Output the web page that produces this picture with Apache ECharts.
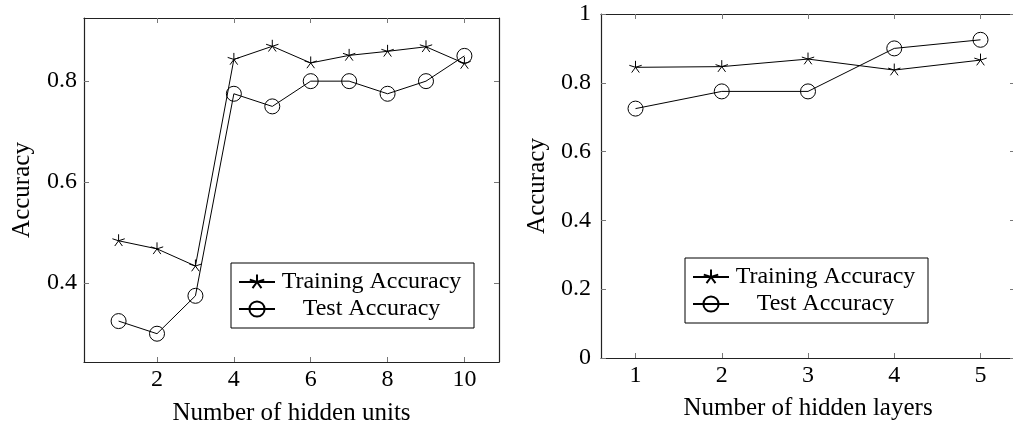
<!DOCTYPE html>
<html>
<head>
<meta charset="utf-8">
<script src="https://cdn.jsdelivr.net/npm/echarts@6/dist/echarts.min.js"></script>
<style>
  html, body { margin: 0; padding: 0; background: #fff; }
  #chart { width: 1013px; height: 424px; }
</style>
</head>
<body>
<div id="chart"></div>
<script>
// Accuracy vs. number of hidden units (left) and hidden layers (right)
const hiddenUnits = [1, 2, 3, 4, 5, 6, 7, 8, 9, 10];
const unitsTrain = [0.484, 0.468, 0.434, 0.843, 0.869, 0.836, 0.851, 0.859, 0.868, 0.835];
const unitsTest = [0.325, 0.300, 0.375, 0.775, 0.750, 0.800, 0.800, 0.775, 0.800, 0.850];

const hiddenLayers = [1, 2, 3, 4, 5];
const layersTrain = [0.845, 0.847, 0.869, 0.837, 0.866];
const layersTest = [0.725, 0.775, 0.775, 0.900, 0.925];

const unitsXTicks = [2, 4, 6, 8, 10];
const unitsYTicks = [0.4, 0.6, 0.8];
const layersXTicks = [1, 2, 3, 4, 5];
const layersYTicks = [0, 0.2, 0.4, 0.6, 0.8, 1];

const seriesNames = ['Training Accuracy', 'Test Accuracy'];

const FONT = '"Liberation Serif", "DejaVu Serif", serif';
const INK = '#000';

// five-armed star made of strokes, padded to a square box so it stays centred
const STAR = 'path://M-10 -10 M10 10 M0 0 L0 -10 M0 0 L9.51 -3.09 M0 0 L5.88 8.09 M0 0 L-5.88 8.09 M0 0 L-9.51 -3.09';

const pairs = (xs, ys) => xs.map((x, i) => [x, ys[i]]);

function valueAxis(opts) {
  const ticks = opts.ticks;
  return {
    type: 'value',
    gridIndex: opts.grid,
    position: opts.position,
    min: opts.min,
    max: opts.max,
    name: opts.name || '',
    nameLocation: 'middle',
    nameGap: opts.nameGap || 0,
    nameRotate: opts.nameRotate,
    nameTextStyle: { fontFamily: FONT, fontSize: 25, color: INK },
    axisLine: { show: true, onZero: false, lineStyle: { color: '#222', width: 1.2 } },
    axisTick: { show: true, inside: true, length: 5, customValues: ticks, lineStyle: { color: '#777', width: 1 } },
    axisLabel: {
      show: !!opts.labels,
      customValues: ticks,
      margin: opts.margin || 8,
      fontFamily: FONT, fontSize: 24, color: INK,
      formatter: v => String(Math.round(v * 10) / 10)
    },
    splitLine: { show: false }
  };
}

function lineSeries(name, data, xi, yi, symbol, size) {
  return {
    type: 'line',
    name: name,
    xAxisIndex: xi,
    yAxisIndex: yi,
    data: data,
    symbol: symbol,
    symbolSize: size,
    showAllSymbol: true,
    lineStyle: { color: INK, width: 1 },
    itemStyle: { color: 'transparent', borderColor: INK, borderWidth: 1 },
    emphasis: { disabled: true },
    z: 3
  };
}

function legendBox(left, top) {
  return {
    orient: 'vertical',
    left: left,
    top: top,
    data: seriesNames,
    selectedMode: false,
    padding: [7, 11, 7, 7],
    itemGap: 3,
    itemWidth: 36,
    itemHeight: 19,
    borderColor: INK,
    borderWidth: 1,
    backgroundColor: '#fff',
    formatter: name => '{t|' + name + '}',
    textStyle: {
      fontFamily: FONT, fontSize: 24, color: INK,
      rich: { t: { width: 183, align: 'center', fontFamily: FONT, fontSize: 24, lineHeight: 24, color: INK } }
    }
  };
}

const chart = echarts.init(document.getElementById('chart'), null, { renderer: 'canvas' });

chart.setOption({
  animation: false,
  backgroundColor: '#fff',
  grid: [
    { left: 84, top: 18, width: 415, height: 344, outerBoundsMode: 'none', containLabel: false },
    { left: 601, top: 14, width: 414, height: 344, outerBoundsMode: 'none', containLabel: false }
  ],
  xAxis: [
    valueAxis({ grid: 0, position: 'bottom', min: 0.1, max: 10.9, ticks: unitsXTicks, labels: true,
                name: 'Number of hidden units', nameGap: 39, margin: 6 }),
    valueAxis({ grid: 0, position: 'top', min: 0.1, max: 10.9, ticks: unitsXTicks }),
    valueAxis({ grid: 1, position: 'bottom', min: 0.6, max: 5.4, ticks: layersXTicks, labels: true,
                name: 'Number of hidden layers', nameGap: 38, margin: 6 }),
    valueAxis({ grid: 1, position: 'top', min: 0.6, max: 5.4, ticks: layersXTicks })
  ],
  yAxis: [
    valueAxis({ grid: 0, position: 'left', min: 0.244, max: 0.925, ticks: unitsYTicks, labels: true,
                name: 'Accuracy', nameGap: 49, nameRotate: 90, margin: 7 }),
    valueAxis({ grid: 0, position: 'right', min: 0.244, max: 0.925, ticks: unitsYTicks }),
    valueAxis({ grid: 1, position: 'left', min: 0, max: 1, ticks: layersYTicks, labels: true,
                name: 'Accuracy', nameGap: 51, nameRotate: 90, margin: 10 }),
    valueAxis({ grid: 1, position: 'right', min: 0, max: 1, ticks: layersYTicks })
  ],
  legend: [legendBox(231, 263), legendBox(685, 258)],
  series: [
    lineSeries(seriesNames[0], pairs(hiddenUnits, unitsTrain), 0, 0, STAR, 13),
    lineSeries(seriesNames[1], pairs(hiddenUnits, unitsTest), 0, 0, 'circle', 15),
    lineSeries(seriesNames[0], pairs(hiddenLayers, layersTrain), 2, 2, STAR, 13),
    lineSeries(seriesNames[1], pairs(hiddenLayers, layersTest), 2, 2, 'circle', 15)
  ]
});
</script>
</body>
</html>
